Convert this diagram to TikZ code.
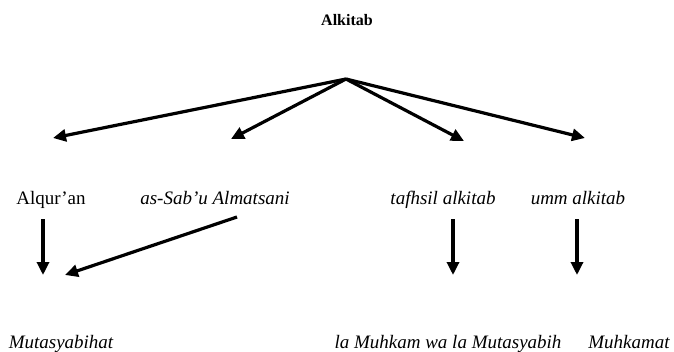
\documentclass[tikz,border=0pt]{standalone}
\usepackage{fontspec}
\setmainfont{Liberation Serif}
\usetikzlibrary{arrows.meta}

\begin{document}
\begin{tikzpicture}[x=1pt,y=-1pt]
\tikzset{lbl/.style={font=\fontsize{19}{21}\selectfont, inner sep=0pt, anchor=base},
  arr/.style={-{Triangle[length=13pt,width=12pt]}, line width=3.2pt}}
\useasboundingbox (0,0) rectangle (674,351);

\node[inner sep=0pt, anchor=base, font=\bfseries\fontsize{16}{18}\selectfont](alkitab) at (347,25) {Alkitab};
\coordinate (hub) at (346,79);
\coordinate (t1) at (53,138);
\coordinate (t2) at (231,139);
\coordinate (t3) at (464,141);
\coordinate (t4) at (585,138);

\node[lbl](alquran) at (51,204) {Alqur'an};
\node[lbl](sabu) at (215,204) {\itshape as-Sab'u Almatsani};
\node[lbl](tafhsil) at (443,204) {\itshape tafhsil alkitab};
\node[lbl](umm) at (578,204) {\itshape umm alkitab};

\coordinate (d1) at (43,219);
\coordinate (e1) at (43,275);
\coordinate (d2) at (237,217);
\coordinate (e2) at (65,275);
\coordinate (d3) at (453,219);
\coordinate (e3) at (453,275);
\coordinate (d4) at (577,219);
\coordinate (e4) at (577,275);

\node[lbl](mutasyabihat) at (61,348) {\itshape Mutasyabihat};
\node[lbl](lamuhkam) at (448,348) {\itshape la Muhkam wa la Mutasyabih};
\node[lbl](muhkamat) at (629,348) {\itshape Muhkamat};

\path[arr] (hub) edge (t1);
\path[arr] (hub) edge (t2);
\path[arr] (hub) edge (t3);
\path[arr] (hub) edge (t4);

\path[arr] (d1) edge (e1);
\path[arr] (d2) edge (e2);
\path[arr] (d3) edge (e3);
\path[arr] (d4) edge (e4);
\end{tikzpicture}
\end{document}
